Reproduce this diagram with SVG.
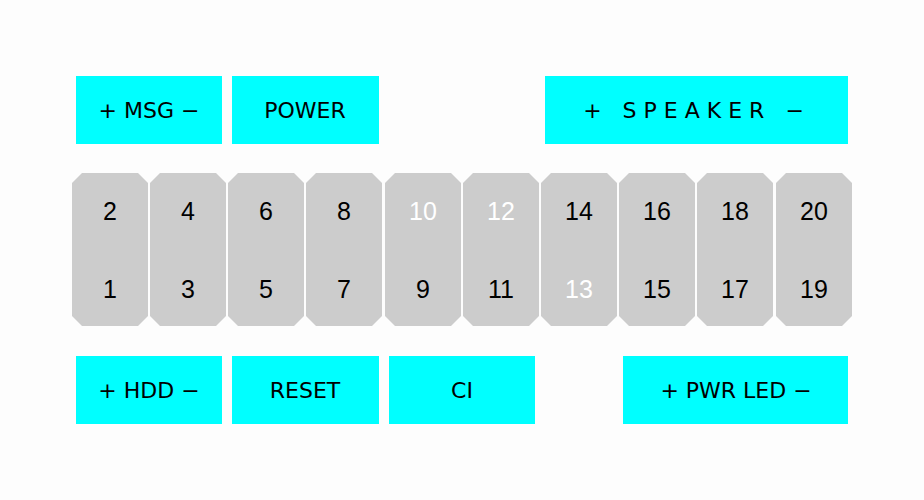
<svg xmlns="http://www.w3.org/2000/svg" width="924" height="500" viewBox="0 0 924 500">
<style>
.lb{fill:#00ffff}
.lt{font-family:"DejaVu Sans",sans-serif;font-size:22px;fill:#000;text-anchor:middle;dominant-baseline:central}
.pin{fill:#cccccc}
.n{font-family:"Liberation Sans",Arial,sans-serif;font-size:25px;fill:#000;text-anchor:middle;dominant-baseline:central}
.w{fill:#fff}
</style>
<defs><path id="p" d="M10 0H66L76 10V143L66 153H10L0 143V10Z"/></defs>
<rect width="924" height="500" fill="#fdfdfd"/>
<g id="labels">
<g id="msg"><rect class="lb" x="76" y="76" width="146" height="68"/><text class="lt" x="149" y="110">+ MSG −</text></g>
<g id="power"><rect class="lb" x="232" y="76" width="147" height="68"/><text class="lt" x="305" y="110">POWER</text></g>
<g id="speaker"><rect class="lb" x="545" y="76" width="303" height="68"/><text class="lt" x="697" y="110" letter-spacing="7">+ SPEAKER −</text></g>
<g id="hdd"><rect class="lb" x="76" y="356" width="146" height="68"/><text class="lt" x="149" y="390">+ HDD −</text></g>
<g id="reset"><rect class="lb" x="232" y="356" width="147" height="68"/><text class="lt" x="305" y="390">RESET</text></g>
<g id="ci"><rect class="lb" x="389" y="356" width="146" height="68"/><text class="lt" x="462" y="390">CI</text></g>
<g id="pwrled"><rect class="lb" x="623" y="356" width="225" height="68"/><text class="lt" x="736" y="390">+ PWR LED −</text></g>
</g>
<g id="pins">
<g id="c1"><use href="#p" class="pin" x="72" y="173"/><text class="n" x="110" y="211">2</text><text class="n" x="110" y="289">1</text></g>
<g id="c2"><use href="#p" class="pin" x="150" y="173"/><text class="n" x="188" y="211">4</text><text class="n" x="188" y="289">3</text></g>
<g id="c3"><use href="#p" class="pin" x="228" y="173"/><text class="n" x="266" y="211">6</text><text class="n" x="266" y="289">5</text></g>
<g id="c4"><use href="#p" class="pin" x="306" y="173"/><text class="n" x="344" y="211">8</text><text class="n" x="344" y="289">7</text></g>
<g id="c5"><use href="#p" class="pin" x="385" y="173"/><text class="n w" x="423" y="211">10</text><text class="n" x="423" y="289">9</text></g>
<g id="c6"><use href="#p" class="pin" x="463" y="173"/><text class="n w" x="501" y="211">12</text><text class="n" x="501" y="289">11</text></g>
<g id="c7"><use href="#p" class="pin" x="541" y="173"/><text class="n" x="579" y="211">14</text><text class="n w" x="579" y="289">13</text></g>
<g id="c8"><use href="#p" class="pin" x="619" y="173"/><text class="n" x="657" y="211">16</text><text class="n" x="657" y="289">15</text></g>
<g id="c9"><use href="#p" class="pin" x="697" y="173"/><text class="n" x="735" y="211">18</text><text class="n" x="735" y="289">17</text></g>
<g id="c10"><use href="#p" class="pin" x="776" y="173"/><text class="n" x="814" y="211">20</text><text class="n" x="814" y="289">19</text></g>
</g>
<g id="connectors"/>
</svg>
